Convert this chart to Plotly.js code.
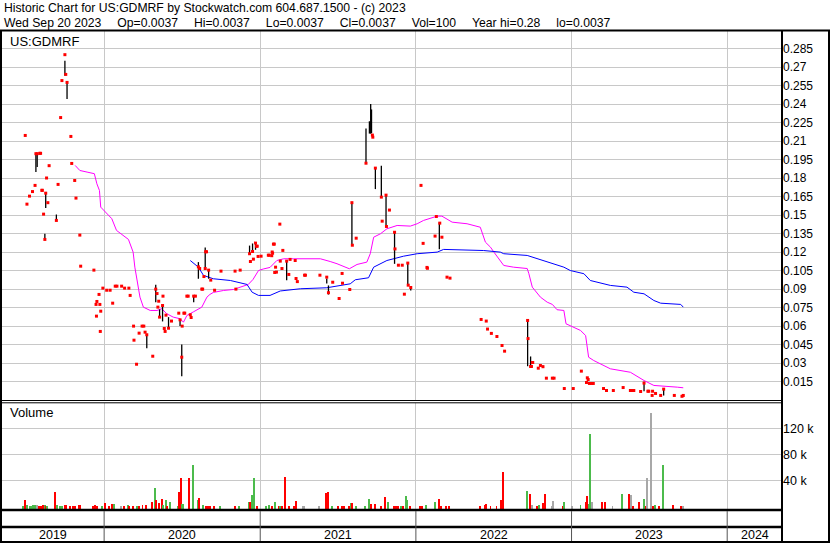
<!DOCTYPE html>
<html><head><meta charset="utf-8">
<script src="https://cdn.plot.ly/plotly-3.0.1.min.js"></script>
<style>html,body{margin:0;padding:0;background:#fff}#chart{width:830px;height:543px}</style>
</head><body><div id="chart"></div>
<script>
// ---------- DATA ----------
const symbol = 'US:GDMRF';
const headerLine1 = 'Historic Chart for US:GDMRF by Stockwatch.com 604.687.1500 - (c) 2023';
const G = '\u00a0\u00a0\u00a0\u00a0\u2009';
const headerLine2 = 'Wed Sep 20 2023' + G + 'Op=0.0037' + G + 'Hi=0.0037' + G + 'Lo=0.0037' + G + 'Cl=0.0037' + G + 'Vol=100' + G + 'Year hi=0.28' + G + 'lo=0.0037';

const closeDates = ['2019-06-30','2019-07-04','2019-07-10','2019-07-17','2019-07-23','2019-07-25','2019-07-28','2019-08-03','2019-08-05','2019-08-08','2019-08-09','2019-08-12','2019-08-15','2019-08-17','2019-08-19','2019-08-22','2019-08-25','2019-09-11','2019-09-15','2019-09-21','2019-09-24','2019-10-01','2019-10-03','2019-10-06','2019-10-15','2019-10-17','2019-10-24','2019-10-27','2019-11-05','2019-11-07','2019-12-08','2019-12-13','2019-12-14','2019-12-15','2019-12-20','2019-12-22','2019-12-23','2019-12-24','2019-12-29',
'2020-01-07','2020-01-15','2020-01-21','2020-01-27','2020-01-31','2020-02-11','2020-02-18','2020-02-28','2020-03-02','2020-03-10','2020-03-11','2020-03-17','2020-03-23','2020-03-30','2020-04-03','2020-04-06','2020-04-10','2020-04-24','2020-05-01','2020-05-04','2020-05-06','2020-05-08','2020-05-10','2020-05-17','2020-05-18','2020-05-21','2020-05-23','2020-05-25','2020-05-31','2020-06-07','2020-06-24','2020-06-27','2020-07-01','2020-07-02','2020-07-06','2020-07-08','2020-07-13','2020-07-16','2020-07-21','2020-07-23','2020-07-29','2020-08-02','2020-08-09','2020-08-12','2020-08-17','2020-08-19','2020-08-22','2020-08-25','2020-08-26','2020-08-28','2020-09-02','2020-09-07','2020-09-16','2020-10-01','2020-11-03','2020-11-05','2020-11-15','2020-12-07','2020-12-09','2020-12-14','2020-12-16','2020-12-21','2020-12-23','2020-12-25','2020-12-27',
'2021-01-03','2021-01-20','2021-01-22','2021-01-28','2021-01-29','2021-01-30','2021-02-01','2021-02-03','2021-02-04','2021-02-06','2021-02-08','2021-02-16','2021-02-17','2021-02-21','2021-02-23','2021-03-04','2021-03-09','2021-03-12','2021-03-24','2021-03-26','2021-03-29','2021-04-15','2021-04-17','2021-05-21','2021-06-06','2021-06-10','2021-06-20','2021-07-05','2021-07-12','2021-07-13','2021-07-30','2021-08-04','2021-08-05','2021-08-14','2021-09-06','2021-09-21','2021-09-22','2021-09-28','2021-10-12','2021-10-14','2021-10-23','2021-10-24','2021-10-31','2021-11-12','2021-11-13','2021-11-21','2021-11-30','2021-12-05','2021-12-13','2021-12-14','2021-12-20',
'2022-01-13','2022-01-18','2022-01-27','2022-01-28','2022-02-15','2022-02-18','2022-02-26','2022-03-03','2022-03-15','2022-03-22','2022-06-03','2022-06-15','2022-06-18','2022-06-27','2022-07-10','2022-07-22','2022-07-28','2022-09-20','2022-09-21','2022-09-27','2022-09-29','2022-10-01','2022-10-02','2022-10-15','2022-10-20','2022-10-26','2022-11-03','2022-11-17','2022-11-21','2022-12-15',
'2023-01-05','2023-01-24','2023-02-05','2023-02-07','2023-02-09','2023-02-12','2023-02-17','2023-02-21','2023-03-17','2023-03-24','2023-04-09','2023-05-02','2023-05-19','2023-05-23','2023-05-27','2023-06-12','2023-06-20','2023-06-29','2023-07-01','2023-07-09','2023-07-10','2023-07-17','2023-07-29','2023-08-05','2023-08-30','2023-09-17','2023-09-20'];
const closeValues = [0.2145,0.1588,0.1653,0.169,0.174,0.1997,0.1997,0.2,0.2,0.170,0.170,0.1507,0.1302,0.1677,0.180,0.160,0.190,0.1456,0.1748,0.229,0.259,0.28,0.264,0.2575,0.2137,0.1918,0.178,0.1637,0.1337,0.1085,0.1053,0.0775,0.068,0.0799,0.0856,0.0775,0.0556,0.072,0.0907,
0.089,0.089,0.0785,0.0923,0.0923,0.0923,0.0907,0.0907,0.0848,0.0599,0.0485,0.029,0.0542,0.0599,0.0599,0.055,0.0529,0.0355,0.0899,0.0863,0.0753,0.0801,0.0672,0.0766,0.0842,0.058,0.0556,0.0688,0.0582,0.064,0.0704,0.065,0.0347,0.0599,0.0704,0.0704,0.0842,0.0842,0.0691,0.0669,0.0842,0.0842,0.108,0.1066,0.0899,0.0899,0.1001,0.1066,0.1202,0.1202,0.1053,0.0972,0.089,0.1045,0.1045,0.0899,0.1053,0.1186,0.1123,0.1204,0.1142,0.1272,0.1247,0.1247,0.1164,
0.1166,0.1174,0.1174,0.117,0.12,0.119,0.1264,0.1264,0.1034,0.1077,0.1037,0.1426,0.1126,0.1066,0.1213,0.1126,0.1018,0.114,0.1131,0.0985,0.096,0.1012,0.1012,0.1012,0.0996,0.087,0.0955,0.0823,0.1026,0.0947,0.0896,0.16,0.1255,0.1312,0.192,0.2148,0.2131,0.188,0.1645,0.145,0.1661,0.1407,0.154,0.136,0.1225,0.1093,0.1093,0.0858,0.111,0.0931,0.0912,
0.174,0.127,0.1075,0.1068,0.1329,0.1488,0.1434,0.132,0.0996,0.0988,0.0653,0.064,0.0575,0.054,0.0515,0.0442,0.0396,0.0645,0.0498,0.0272,0.0272,0.0304,0.0304,0.0258,0.028,0.027,0.0177,0.0177,0.0177,0.0093,
0.0093,0.0234,0.0142,0.018,0.0166,0.0134,0.0134,0.0134,0.0093,0.0077,0.0077,0.0101,0.0077,0.0077,0.0077,0.0069,0.0137,0.0071,0.0071,0.0037,0.0071,0.0053,0.0037,0.0088,0.0037,0.003,0.0037];

const rangeDates = ['2019-07-25','2019-07-28','2019-08-15','2019-08-17','2019-09-11','2019-10-01','2019-10-06','2020-04-10','2020-05-01','2020-05-10','2020-05-17','2020-05-31','2020-06-27','2020-07-01','2020-07-29','2020-08-09','2020-08-25','2020-09-02','2020-12-07','2020-12-14','2020-12-21','2021-03-04','2021-06-06','2021-06-10','2021-08-04','2021-09-06','2021-09-14','2021-09-17','2021-09-19','2021-09-28','2021-10-12','2021-10-23','2021-11-12','2021-12-13','2021-12-20','2022-02-25','2022-09-20','2022-09-27','2022-10-26','2022-12-15','2023-06-20','2023-08-05'];
const rangeLow  = [0.1848,0.189,0.1302,0.1556,0.1456,0.263,0.244,0.042,0.0793,0.0672,0.0637,0.0582,0.0599,0.0193,0.0793,0.0983,0.1066,0.0983,0.1186,0.1198,0.1218,0.097,0.0945,0.0855,0.1261,0.192,0.216,0.2159,0.2164,0.171,0.1645,0.1407,0.1104,0.0931,0.0888,0.1223,0.0274,0.0272,0.027,0.0093,0.0071,0.0036];
const rangeHigh = [0.1997,0.1997,0.1348,0.1677,0.1504,0.275,0.258,0.0529,0.0934,0.0734,0.0766,0.0672,0.065,0.045,0.0842,0.1118,0.1237,0.1053,0.1252,0.1269,0.1272,0.1131,0.0985,0.0929,0.16,0.2202,0.226,0.24,0.2356,0.1883,0.19,0.1661,0.1361,0.111,0.0912,0.144,0.0653,0.0353,0.028,0.0101,0.0148,0.0088];

const maShortDates = ['2019-10-25','2019-11-05','2019-11-22','2019-12-09','2019-12-15','2019-12-21','2019-12-24','2020-01-05','2020-01-19','2020-01-30','2020-02-19','2020-02-27','2020-03-09','2020-03-13','2020-03-25','2020-04-02','2020-04-18','2020-05-04','2020-05-15','2020-05-27','2020-06-11','2020-06-27','2020-07-05','2020-07-13','2020-07-28','2020-08-17','2020-08-29','2020-09-05','2020-09-13','2020-10-07','2020-10-30','2020-11-22','2020-12-04','2020-12-15','2020-12-28','2021-01-08','2021-01-24','2021-02-09','2021-02-25','2021-03-20','2021-05-22','2021-06-14','2021-06-30','2021-07-29','2021-08-16','2021-09-08','2021-09-16','2021-09-24','2021-10-10','2021-10-25','2021-11-18','2021-12-19','2022-01-04','2022-01-19','2022-02-20','2022-03-03','2022-03-27','2022-05-01','2022-06-01','2022-06-13','2022-06-25','2022-07-03','2022-07-26','2022-08-18','2022-09-11','2022-09-19','2022-09-23','2022-10-01','2022-10-20','2022-11-05','2022-11-17','2022-11-28','2022-12-14','2022-12-19','2023-01-22','2023-02-03','2023-02-10','2023-02-22','2023-04-02','2023-05-19','2023-06-20','2023-07-13','2023-09-06','2023-09-20'];
const maShort = [0.1902,0.1861,0.1848,0.1835,0.1753,0.1699,0.1564,0.1523,0.147,0.1375,0.132,0.1302,0.1199,0.1077,0.0834,0.0753,0.0726,0.0726,0.074,0.0699,0.0672,0.0659,0.0631,0.0685,0.0714,0.0753,0.0834,0.0856,0.0872,0.0888,0.0896,0.092,0.0937,0.0977,0.105,0.1062,0.1075,0.1131,0.1145,0.1145,0.1145,0.1123,0.1105,0.1064,0.1099,0.1118,0.1186,0.132,0.1348,0.1388,0.1415,0.141,0.1429,0.1456,0.1491,0.1491,0.1442,0.1429,0.1401,0.128,0.1239,0.1199,0.1091,0.1077,0.1072,0.1066,0.1024,0.0915,0.0834,0.0793,0.0775,0.0732,0.0726,0.0618,0.0564,0.0523,0.0347,0.032,0.0253,0.0225,0.0158,0.0118,0.0104,0.0099];

const maLongDates = ['2020-07-21','2020-08-09','2020-08-21','2020-09-13','2020-10-23','2020-12-01','2020-12-13','2020-12-28','2021-01-24','2021-02-17','2021-04-05','2021-06-06','2021-07-31','2021-08-12','2021-09-12','2021-09-24','2021-10-25','2021-12-03','2022-01-04','2022-02-20','2022-03-07','2022-04-08','2022-06-09','2022-07-18','2022-07-26','2022-09-19','2022-10-12','2022-12-14','2022-12-29','2023-01-30','2023-02-14','2023-04-02','2023-05-11','2023-05-27','2023-06-20','2023-07-13','2023-07-29','2023-09-14','2023-09-20'];
const maLong = [0.1131,0.1077,0.101,0.0983,0.0969,0.0937,0.0874,0.0848,0.0848,0.0884,0.0902,0.091,0.0942,0.0975,0.0991,0.1077,0.1131,0.1166,0.1186,0.1199,0.1221,0.1218,0.1212,0.1199,0.1186,0.1172,0.1145,0.1077,0.105,0.1024,0.0969,0.0929,0.0915,0.0874,0.0861,0.0807,0.0785,0.0775,0.0753];

const volDates = ['2019-06-25','2019-06-30','2019-07-05','2019-07-11','2019-07-14','2019-07-18','2019-07-23','2019-07-27','2019-08-01','2019-08-06','2019-08-11','2019-08-15','2019-08-18','2019-08-21','2019-09-08','2019-09-12','2019-09-20','2019-09-24','2019-10-01','2019-10-04','2019-10-13','2019-10-19','2019-10-25','2019-11-03','2019-11-06','2019-12-06','2019-12-10','2019-12-15','2019-12-27',
'2020-01-04','2020-01-12','2020-01-19','2020-01-24','2020-02-09','2020-02-17','2020-02-26','2020-02-28','2020-03-09','2020-03-17','2020-03-22','2020-03-31','2020-04-08','2020-04-22','2020-04-29','2020-05-02','2020-05-08','2020-05-16','2020-05-19','2020-05-24','2020-05-28','2020-06-04','2020-06-22','2020-06-24','2020-06-29','2020-07-02','2020-07-05','2020-07-17','2020-07-27','2020-08-08','2020-08-11','2020-08-19','2020-08-27','2020-09-01','2020-09-05','2020-09-15','2020-09-29','2020-11-02','2020-11-12','2020-12-05','2020-12-08','2020-12-13','2020-12-18','2020-12-24',
'2021-01-15','2021-01-21','2021-01-29','2021-02-04','2021-02-14','2021-02-17','2021-02-21','2021-03-01','2021-03-09','2021-03-22','2021-03-26','2021-04-11','2021-04-14','2021-05-19','2021-06-05','2021-06-09','2021-06-19','2021-07-03','2021-07-12','2021-07-17','2021-07-28','2021-07-31','2021-08-02','2021-08-05','2021-08-13','2021-09-04','2021-09-13','2021-09-18','2021-09-27','2021-10-11','2021-10-20','2021-10-28','2021-11-11','2021-11-16','2021-11-19','2021-11-27','2021-12-02','2021-12-08','2021-12-12','2021-12-19',
'2022-01-11','2022-01-16','2022-01-25','2022-02-15','2022-02-24','2022-03-01','2022-03-13','2022-03-20','2022-06-01','2022-06-12','2022-06-15','2022-06-25','2022-07-09','2022-07-20','2022-07-24','2022-09-19','2022-09-26','2022-10-01','2022-10-11','2022-10-17','2022-10-25','2022-10-31','2022-11-15','2022-11-19','2022-12-12','2022-12-15',
'2023-01-02','2023-01-22','2023-02-03','2023-02-07','2023-02-10','2023-02-14','2023-02-18','2023-03-14','2023-03-21','2023-04-07','2023-04-30','2023-05-16','2023-05-21','2023-05-26','2023-06-09','2023-06-19','2023-06-24','2023-06-27','2023-07-07','2023-07-10','2023-07-15','2023-07-26','2023-08-04','2023-08-27','2023-09-14','2023-09-20'];
const volValues = [1000,9700,2000,1000,1000,1500,1500,2000,800,800,2000,1500,800,1200,22000,2000,1000,1000,1500,1500,1000,800,1000,2000,2000,1000,1500,800,1000,
4500,800,4000,4000,800,800,2500,800,1000,800,800,2000,1500,6600,28000,9700,5000,11000,1500,9700,800,6600,1000,22000,43500,4000,4000,43500,63500,9700,12700,1500,800,800,800,800,800,800,800,6600,6600,17000,43500,800,
800,1500,800,6600,1000,800,800,45000,800,800,8000,800,800,800,20500,22000,800,800,1000,1000,1000,1000,5000,5000,800,800,11000,4000,3000,800,14300,6600,1000,800,800,1000,800,16000,9700,800,
800,800,2500,6600,11000,800,800,1000,800,2000,3000,1000,800,9700,53000,23500,19000,1500,800,1500,4600,18500,1000,8000,1000,6000,
800,1500,6000,16000,3000,111000,6500,6000,6000,800,19000,19000,17400,800,6000,10800,800,43000,143500,800,1500,800,63500,2000,800,800];
// u = close up, d = close down, f = unchanged
const volDir = ['u','d','u','u','u','u','u','f','d','d','d','u','d','u','d','u','u','u','d','d','d','d','d','d','d','d','d','d','u',
'd','d','d','u','f','d','u','d','d','u','d','d','d','d','u','d','d','d','u','u','d','u','u','d','d','u','u','d','u','u','d','u','d','d','d','d','u','d','u','u','d','u','u','d',
'u','u','d','u','d','u','d','d','d','d','d','f','f','f','d','d','u','d','d','d','d','d','u','d','u','u','u','d','d','d','d','u','d','d','d','u','d','u','u','d',
'd','d','u','u','d','d','d','d','d','d','d','d','d','d','d','u','d','f','d','u','d','d','f','f','d','u',
'f','u','d','d','u','u','f','d','d','f','u','d','f','d','d','u','d','f','f','d','u','d','u','d','d','f'];

const priceTickVals = [0.015,0.03,0.045,0.06,0.075,0.09,0.105,0.12,0.135,0.15,0.165,0.18,0.195,0.21,0.225,0.24,0.255,0.27,0.285];
const priceTickText = ['0.015','0.03','0.045','0.06','0.075','0.09','0.105','0.12','0.135','0.15','0.165','0.18','0.195','0.21','0.225','0.24','0.255','0.27','0.285'];
const volTickVals = [40000,80000,120000];
const volTickText = ['40 k','80 k','120 k'];
const yearLabels = ['2019','2020','2021','2022','2023','2024'];

// ---------- LAYOUT HELPERS ----------
const W = 830, H = 543;
const px = x => x / W;
const py = y => 1 - y / H;
const X0 = '2019-05-06 12:00', X1 = '2024-05-08 12:00';
const VOL_BASE = -4150;
const FONT = 'Arial, "Liberation Sans", Helvetica, sans-serif';
const dirColor = {u:'#4cbb4c', d:'#ff0000', f:'#a8a8a8'};

const yearStarts = yearLabels.slice(1).map(y => y + '-01-01');
const t0 = new Date(X0.replace(' ','T')+'Z').getTime(), t1 = new Date(X1.replace(' ','T')+'Z').getTime();
const bounds = [t0].concat(yearStarts.map(s => new Date(s+'T00:00:00Z').getTime())).concat([t1]);
const yearMids = yearLabels.map((y,i) => new Date((bounds[i]+bounds[i+1])/2).toISOString().slice(0,19).replace('T',' '));

// high-low bars as one broken line
const barX = [], barY = [];
rangeDates.forEach((d,i) => { barX.push(d,d,null); barY.push(rangeLow[i], rangeHigh[i], null); });

const traces = [
  {type:'bar', x:volDates, y:volValues.map(v => v - VOL_BASE), base:VOL_BASE, xaxis:'x2', yaxis:'y2',
   marker:{color:volDir.map(d => dirColor[d]), line:{width:0}}, width:4.5*86400000, hoverinfo:'skip'},
  {type:'scatter', mode:'lines', x:maShortDates, y:maShort, line:{color:'#ff00ff', width:1}, hoverinfo:'skip'},
  {type:'scatter', mode:'lines', x:maLongDates, y:maLong, line:{color:'#0000ff', width:1}, hoverinfo:'skip'},
  {type:'scatter', mode:'lines', x:barX, y:barY, connectgaps:false, line:{color:'#000000', width:1.3}, hoverinfo:'skip'},
  {type:'scatter', mode:'markers', x:closeDates, y:closeValues, marker:{symbol:'square', size:3, color:'#ff0000', line:{width:0}}, hoverinfo:'skip'}
];

const blk = (x0,y0,x1,y1,w,c) => ({type:'line', xref:'paper', yref:'paper', x0:px(x0), y0:py(y0), x1:px(x1), y1:py(y1), line:{color:c||'#000', width:w}});
const shapes = [
  blk(0,30.5,830,30.5,2),
  blk(1,30,1,543,2),
  blk(782,30,782,543,2),
  blk(829,30,829,543,2),
  blk(0,400.5,782,400.5,1),
  blk(0,402.8,782,402.8,1),
  blk(0,510,782,510,2.5),
  blk(0,527,782,527,2.5),
  blk(0,542,830,542,2)
];
yearStarts.forEach(s => shapes.push({type:'line', xref:'x', yref:'paper', x0:s, x1:s, y0:py(511), y1:py(541), line:{color:'#555', width:1}}));

const annotations = [
  {xref:'paper', yref:'paper', x:px(2), y:py(8), xanchor:'left', yanchor:'middle', text:headerLine1, showarrow:false, font:{family:FONT, size:12.2, color:'#000'}},
  {xref:'paper', yref:'paper', x:px(2), y:py(23), xanchor:'left', yanchor:'middle', text:headerLine2, showarrow:false, font:{family:FONT, size:12.2, color:'#000'}},
  {xref:'paper', yref:'paper', x:px(8), y:py(41), xanchor:'left', yanchor:'middle', text:symbol, showarrow:false, font:{family:FONT, size:13, color:'#000'}},
  {xref:'paper', yref:'paper', x:px(8), y:py(413), xanchor:'left', yanchor:'middle', text:'Volume', showarrow:false, font:{family:FONT, size:13, color:'#000'}}
];
yearLabels.forEach((y,i) => annotations.push({xref:'x', yref:'paper', x:yearMids[i], y:py(534.5), xanchor:'center', yanchor:'middle', text:y, showarrow:false, font:{family:FONT, size:12.5, color:'#000'}}));

const gridc = '#c8c8c8';
const layout = {
  width:W, height:H, margin:{l:0,r:0,t:0,b:0}, paper_bgcolor:'#ffffff', plot_bgcolor:'#ffffff', showlegend:false,
  font:{family:FONT, size:12, color:'#000'},
  xaxis:{domain:[px(2),px(782)], type:'date', range:[X0,X1], tickvals:yearStarts, showticklabels:false, ticks:'', showgrid:true, gridcolor:gridc, gridwidth:1, zeroline:false, showline:false, anchor:'y'},
  yaxis:{domain:[py(400),py(30)], range:[0,0.3], side:'right', anchor:'x', tickvals:priceTickVals, ticktext:priceTickText, ticks:'', showgrid:true, gridcolor:gridc, gridwidth:1, zeroline:false, showline:false, tickfont:{family:FONT, size:12, color:'#000'}},
  xaxis2:{domain:[px(2),px(782)], type:'date', range:[X0,X1], matches:'x', tickvals:yearStarts, showticklabels:false, ticks:'', showgrid:true, gridcolor:gridc, zeroline:false, showline:false, anchor:'y2'},
  yaxis2:{domain:[py(509),py(403)], range:[VOL_BASE, 158900], side:'right', anchor:'x2', tickvals:volTickVals, ticktext:volTickText, ticks:'', showgrid:true, gridcolor:gridc, zeroline:false, showline:false, tickfont:{family:FONT, size:12.5, color:'#000'}},
  bargap:0,
  shapes:shapes, annotations:annotations
};

Plotly.newPlot('chart', traces, layout, {staticPlot:true, displayModeBar:false});
</script></body></html>
